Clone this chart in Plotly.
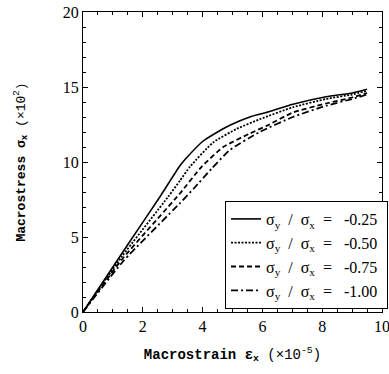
import plotly.graph_objects as go

# Data
names = ["σ<sub>y</sub>  /  σ<sub>x</sub>  =  \u00a0-0.25\u00a0",
         "σ<sub>y</sub>  /  σ<sub>x</sub>  =  \u00a0-0.50\u00a0",
         "σ<sub>y</sub>  /  σ<sub>x</sub>  =  \u00a0-0.75\u00a0",
         "σ<sub>y</sub>  /  σ<sub>x</sub>  =  \u00a0-1.00\u00a0"]

x_025 = [0, 1.5, 2.58, 3.24, 3.45, 4.02, 4.5, 4.91, 5.58, 6.13, 7.02, 8.13, 9.0, 9.5]
y_025 = [0, 4.5, 7.7, 9.75, 10.25, 11.4, 12.0, 12.45, 13.0, 13.3, 13.85, 14.35, 14.6, 14.85]

x_050 = [0, 1.3, 2.85, 3.24, 3.58, 4.35, 5.13, 5.91, 7.02, 8.13, 9.0, 9.5]
y_050 = [0, 3.7, 7.69, 8.75, 9.69, 11.3, 12.2, 12.85, 13.65, 14.2, 14.5, 14.75]

x_075 = [0, 1.3, 3.24, 3.97, 4.69, 5.58, 6.13, 7.02, 8.13, 9.0, 9.5]
y_075 = [0, 3.5, 7.9, 9.69, 11.0, 11.9, 12.4, 13.3, 13.9, 14.3, 14.6]

x_100 = [0, 1.35, 3.24, 3.69, 4.3, 4.91, 5.91, 7.02, 8.13, 9.0, 9.5]
y_100 = [0, 3.4, 7.25, 8.2, 9.55, 10.8, 12.0, 13.0, 13.75, 14.2, 14.5]

xs = [x_025, x_050, x_075, x_100]
ys = [y_025, y_050, y_075, y_100]
dashes = ["solid", "2px,1.5px", "5px,3px", "7px,3px,2px,3px"]
widths = [1.6, 1.8, 1.8, 1.8]

fig = go.Figure()
for n, x, y, d, w in zip(names, xs, ys, dashes, widths):
    fig.add_trace(go.Scatter(x=x, y=y, mode="lines", name=n,
                             line=dict(color="black", dash=d, width=w,
                                       shape="spline", smoothing=0.5)))

axis_common = dict(
    showline=True, linecolor="black", linewidth=1, mirror="ticks",
    ticks="inside", ticklen=5, tickcolor="black", showgrid=False, zeroline=False,
    tickfont=dict(family="Liberation Serif", size=16, color="black"),
    ticklabeloverflow="allow",
)

fig.update_xaxes(range=[0, 10], dtick=2, tick0=0,
                 minor=dict(ticks="inside", dtick=0.5, ticklen=3, tickcolor="black"),
                 title=dict(text="<b>Macrostrain ε<sub>x</sub></b> (×10<sup>-5</sup>)",
                            font=dict(family="Liberation Mono", size=14, color="black"),
                            standoff=14),
                 **axis_common)
fig.update_yaxes(range=[0, 20], dtick=5, tick0=0,
                 minor=dict(ticks="inside", dtick=1, ticklen=3, tickcolor="black"),
                 title=dict(text="<b>Macrostress σ<sub>x</sub></b> (×10<sup>2</sup>)",
                            font=dict(family="Liberation Mono", size=13, color="black"),
                            standoff=34),
                 **axis_common)

fig.update_layout(
    width=389, height=374,
    margin=dict(l=83, r=7, t=12, b=62, autoexpand=False),
    plot_bgcolor="white", paper_bgcolor="white",
    legend=dict(x=0.475, y=0.01, xanchor="left", yanchor="bottom",
                bordercolor="black", borderwidth=1, bgcolor="white",
                font=dict(family="Liberation Serif", size=16, color="black"),
                itemwidth=30, tracegroupgap=0),
    showlegend=True,
)

fig.write_html("out.html", config={"displayModeBar": False},
               post_script="document.body.style.margin='0';document.body.style.padding='0';")
